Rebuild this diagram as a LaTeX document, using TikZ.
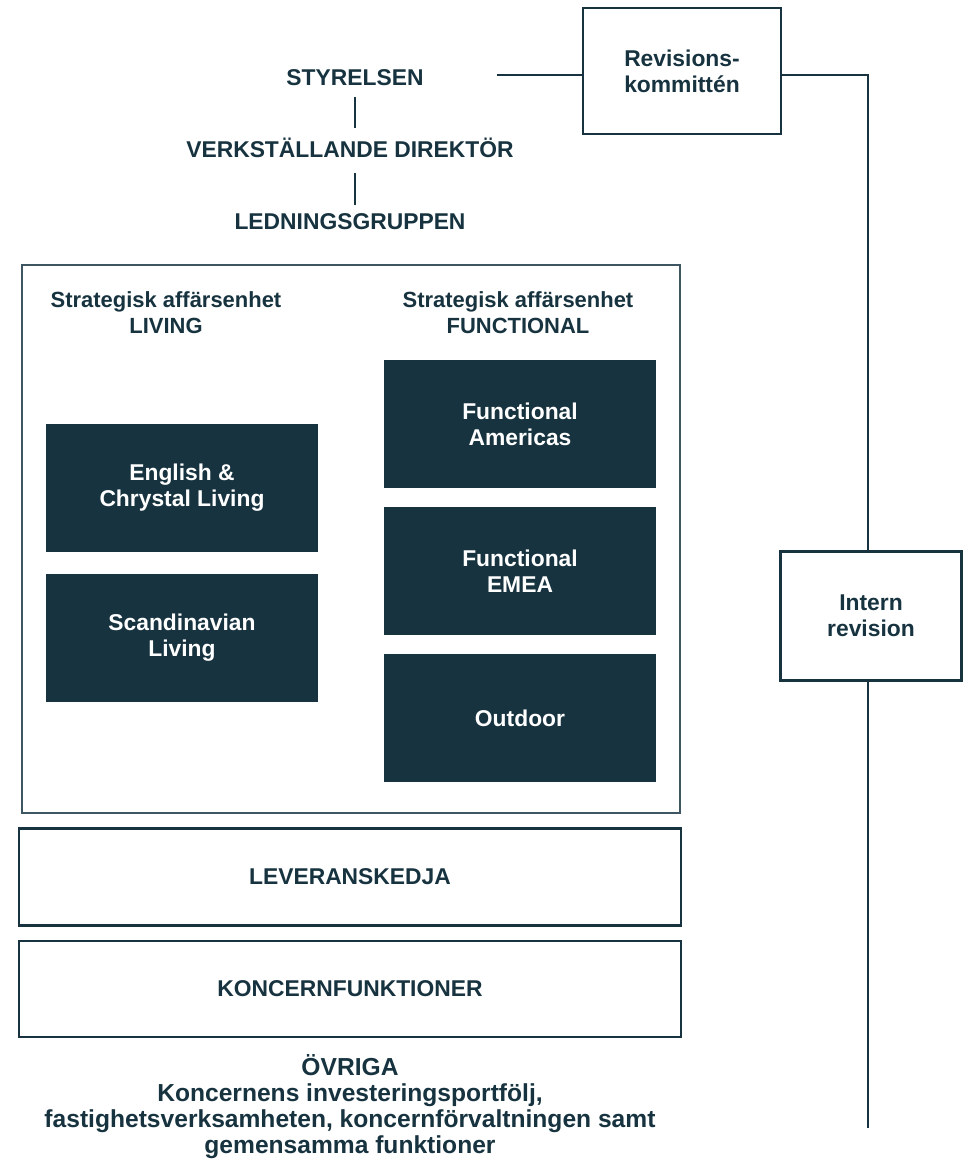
\documentclass[tikz,border=0pt]{standalone}
\usepackage{fontspec}
\setmainfont{Liberation Sans}
\usepackage{tikz}
\usetikzlibrary{positioning,calc}
\definecolor{navy}{HTML}{17333F}
\definecolor{frame}{HTML}{3E5662}

\begin{document}
\begin{tikzpicture}[x=0.02cm, y=-0.02cm, line width=1.6pt, draw=navy,
	title/.style={font=\bfseries\fontsize{13}{15}\selectfont, text=navy, align=center, inner sep=0pt},
	label/.style={font=\bfseries\fontsize{12.5}{14.8}\selectfont, text=navy, align=center, inner sep=0pt},
	openbox/.style={draw=navy, line width=1.6pt, fill=white, font=\bfseries\fontsize{13}{14.8}\selectfont, text=navy, align=center, inner sep=0pt},
	darkbox/.style={fill=navy, minimum width=5.44cm, minimum height=2.56cm, font=\bfseries\fontsize{13}{14.8}\selectfont, text=white, align=center, inner sep=0pt}]
	\useasboundingbox (0,0) rectangle (964,1163);

	\node[title] (sty) at (355,78)  {STYRELSEN};
	\node[title] (vd)  at (350,148) {VERKST\"ALLANDE DIREKT\"OR};
	\node[title] (lg)  at (350,222) {LEDNINGSGRUPPEN};

	\node[openbox, minimum width=3.96cm, minimum height=2.52cm] (rk) at (682,71) {Revisions-\\kommitt\'en};
	\node[openbox, minimum width=3.62cm, minimum height=2.58cm] (ir) at (871,616) {Intern\\revision};

	\node[draw=frame, line width=1.3pt, minimum width=13.16cm, minimum height=10.96cm] (sbu) at (351,539) {};
	\node[label] (liv) at (166,313) {Strategisk aff\"arsenhet\\LIVING};
	\node[label] (fun) at (518,313) {Strategisk aff\"arsenhet\\FUNCTIONAL};

	\node[darkbox] (ecl) at (182,488) {English \&\\Chrystal Living};
	\node[darkbox] (scl) at (182,638) {Scandinavian\\Living};
	\node[darkbox] (fam) at (520,424) {Functional\\Americas};
	\node[darkbox] (fem) at (520,571) {Functional\\EMEA};
	\node[darkbox] (out) at (520,718) {Outdoor};

	\node[openbox, minimum width=13.24cm, minimum height=1.94cm] (lev) at (350,877) {LEVERANSKEDJA};
	\node[openbox, minimum width=13.24cm, minimum height=1.92cm] (kf)  at (350,989) {KONCERNFUNKTIONER};

	\node[label, font=\bfseries\fontsize{14}{14.8}\selectfont] (ovr) at (350,1107) {\"OVRIGA\\Koncernens investeringsportf\"olj,\\fastighetsverksamheten, koncernf\"orvaltningen samt\\gemensamma funktioner};

	\coordinate (c1) at (497,75);
	\coordinate (c2) at (868,1128);

	\draw[navy, line width=1.2pt] (355,97) -- (355,128);
	\draw[navy, line width=1.2pt] (355,173) -- (355,205);
	\draw[navy] (c1) -- (c1 -| rk.west);
	\draw[navy] (rk.east |- c1) -| (ir.north -| c2);
	\draw[navy] (ir.south -| c2) -- (c2);
\end{tikzpicture}
\end{document}
